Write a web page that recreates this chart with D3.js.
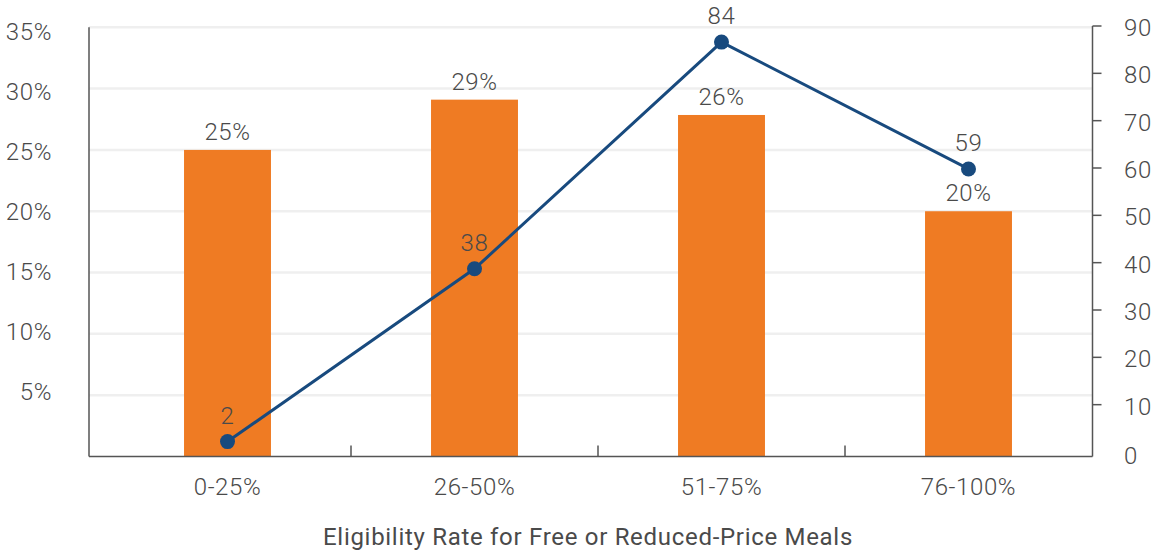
<!DOCTYPE html>
<html>
<head>
<meta charset="utf-8">
<script src="https://cdn.jsdelivr.net/npm/d3@7"></script>
<style>
  body { margin: 0; background: #fff; }
  text { font-family: Roboto, "Liberation Sans", sans-serif; font-weight: 300; fill: #4a4a4a; letter-spacing: 0.6px; }
</style>
</head>
<body>
<div id="chart"></div>
<script>
// categories and values
const categories = ["0-25%", "26-50%", "51-75%", "76-100%"];
const barValues = [25, 29.1, 27.85, 20];          // where the bars are drawn (%)
const barLabels = ["25%", "29%", "26%", "20%"];    // what the bars say
const lineValues = [2.2, 38.7, 86.6, 59.8];        // where the points are drawn
const lineLabels = ["2", "38", "84", "59"];        // what the points say
const leftTicks = [5, 10, 15, 20, 25, 30, 35];
const rightTicks = [0, 10, 20, 30, 40, 50, 60, 70, 80, 90];
const xTitle = "Eligibility Rate for Free or Reduced-Price Meals";

const width = 1159, height = 552;
const plotLeft = 89, plotRight = 1092.5, plotBottom = 456.5;
const fontSize = "24px";

const svg = d3.select("#chart")
    .append("svg")
    .attr("width", width)
    .attr("height", height);

// scales
const x = d3.scaleBand()
    .domain(categories)
    .range([104, 1092])
    .padding(0);
const barW = x.bandwidth() * 0.352;

const yLeft = d3.scaleLinear().domain([0, 35]).range([plotBottom, 27.3]);
// tick labels on the left sit on a slightly different spacing than the gridlines
const yLeftLabel = d3.scaleLinear().domain([0, 35]).range([451, 31]);
const yRight = d3.scaleLinear().domain([0, 90]).range([452, 26]);

// gridlines
svg.append("g")
    .selectAll("line")
    .data(leftTicks)
    .enter()
    .append("line")
    .attr("x1", plotLeft)
    .attr("x2", plotRight)
    .attr("y1", d => yLeft(d))
    .attr("y2", d => yLeft(d))
    .attr("stroke", "#efefef")
    .attr("stroke-width", 2.5);

// left axis line + labels
svg.append("line")
    .attr("x1", plotLeft).attr("x2", plotLeft)
    .attr("y1", yLeft(35)).attr("y2", plotBottom)
    .attr("stroke", "#555").attr("stroke-width", 1.5);

svg.append("g")
    .selectAll("text")
    .data(leftTicks)
    .enter()
    .append("text")
    .attr("x", 52)
    .attr("y", d => yLeftLabel(d))
    .attr("dy", "0.36em")
    .attr("text-anchor", "end")
    .style("font-size", fontSize)
    .text(d => d + "%");

// right axis
svg.append("line")
    .attr("x1", plotRight).attr("x2", plotRight)
    .attr("y1", yRight(90)).attr("y2", plotBottom)
    .attr("stroke", "#555").attr("stroke-width", 1.5);

svg.append("g")
    .selectAll("line")
    .data(rightTicks.filter(d => d > 0))
    .enter()
    .append("line")
    .attr("x1", plotRight).attr("x2", plotRight + 9)
    .attr("y1", d => yRight(d)).attr("y2", d => yRight(d))
    .attr("stroke", "#555").attr("stroke-width", 1.5);

svg.append("g")
    .selectAll("text")
    .data(rightTicks)
    .enter()
    .append("text")
    .attr("x", 1124)
    .attr("y", d => yRight(d) + (d === 0 ? 3 : 1.5))
    .attr("dy", "0.36em")
    .attr("text-anchor", "start")
    .style("font-size", fontSize)
    .text(d => d);

// bars
svg.selectAll("rect.bar")
    .data(barValues)
    .enter()
    .append("rect")
    .attr("class", "bar")
    .attr("x", (d, i) => x(categories[i]) + (x.bandwidth() - barW) / 2)
    .attr("y", d => yLeft(d))
    .attr("width", barW)
    .attr("height", d => plotBottom - yLeft(d))
    .attr("fill", "#ef7b23");

svg.selectAll("text.barlabel")
    .data(barValues)
    .enter()
    .append("text")
    .attr("class", "barlabel")
    .attr("x", (d, i) => x(categories[i]) + x.bandwidth() / 2)
    .attr("y", d => yLeft(d) - 10)
    .attr("text-anchor", "middle")
    .style("font-size", fontSize)
    .text((d, i) => barLabels[i]);

// bottom axis
svg.append("line")
    .attr("x1", plotLeft).attr("x2", plotRight)
    .attr("y1", plotBottom).attr("y2", plotBottom)
    .attr("stroke", "#555").attr("stroke-width", 1.5);

svg.append("g")
    .selectAll("line")
    .data(categories.slice(1))
    .enter()
    .append("line")
    .attr("x1", d => x(d)).attr("x2", d => x(d))
    .attr("y1", plotBottom - 11).attr("y2", plotBottom)
    .attr("stroke", "#555").attr("stroke-width", 1.5);

svg.append("g")
    .selectAll("text")
    .data(categories)
    .enter()
    .append("text")
    .attr("x", d => x(d) + x.bandwidth() / 2)
    .attr("y", 495)
    .attr("text-anchor", "middle")
    .style("font-size", fontSize)
    .text(d => d);

svg.append("text")
    .attr("x", 588)
    .attr("y", 545)
    .attr("text-anchor", "middle")
    .style("font-size", fontSize)
    .style("font-weight", 400)
    .style("letter-spacing", "0.7px")
    .text(xTitle);

// line series
const line = d3.line()
    .x((d, i) => x(categories[i]) + x.bandwidth() / 2)
    .y(d => yRight(d));

svg.append("path")
    .datum(lineValues)
    .attr("d", line)
    .attr("fill", "none")
    .attr("stroke", "#184a7e")
    .attr("stroke-width", 3);

svg.selectAll("circle.pt")
    .data(lineValues)
    .enter()
    .append("circle")
    .attr("class", "pt")
    .attr("cx", (d, i) => x(categories[i]) + x.bandwidth() / 2)
    .attr("cy", d => yRight(d))
    .attr("r", 7.5)
    .attr("fill", "#184a7e");

svg.selectAll("text.ptlabel")
    .data(lineValues)
    .enter()
    .append("text")
    .attr("class", "ptlabel")
    .attr("x", (d, i) => x(categories[i]) + x.bandwidth() / 2)
    .attr("y", d => yRight(d) - 18)
    .attr("text-anchor", "middle")
    .style("font-size", fontSize)
    .text((d, i) => lineLabels[i]);
</script>
</body>
</html>
